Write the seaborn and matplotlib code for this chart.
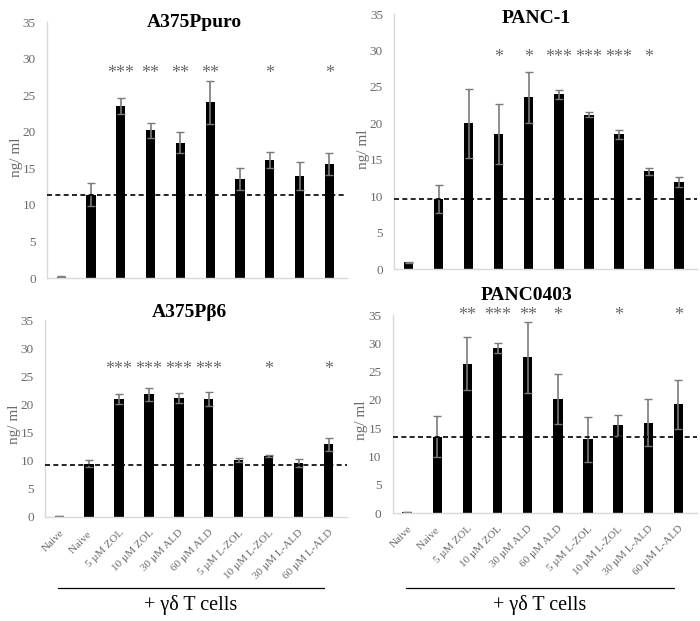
import numpy as np
import pandas as pd
import matplotlib
matplotlib.use("Agg")
import matplotlib.pyplot as plt
import matplotlib.transforms as mtransforms
import seaborn as sns

sns.set_theme(style="white")
plt.rcParams['font.family'] = ['Liberation Serif', 'DejaVu Serif']

categories = ["Naive", "Naive ", "5 µM ZOL", "10 µM ZOL", "30 µM ALD", "60 µM ALD",
              "5 µM L-ZOL", "10 µM L-ZOL", "30 µM L-ALD", "60 µM L-ALD"]

titles = ["A375Ppuro", "PANC-1", "A375Pβ6", "PANC0403"]

a375puro_vals = [0.2, 11.4, 23.5, 20.2, 18.5, 24.0, 13.6, 16.1, 14.0, 15.6]
a375puro_err = [0.05, 1.55, 1.1, 1.0, 1.4, 2.9, 1.5, 1.1, 1.9, 1.5]
a375puro_stars = ["", "", "***", "**", "**", "**", "", "*", "", "*"]

panc1_vals = [0.9, 9.6, 20.0, 18.5, 23.6, 24.0, 21.2, 18.5, 13.4, 11.9]
panc1_err = [0.05, 1.9, 4.7, 4.1, 3.5, 0.6, 0.4, 0.6, 0.45, 0.7]
panc1_stars = ["", "", "", "*", "*", "***", "***", "***", "*", ""]

a375b6_vals = [0.2, 9.5, 20.9, 21.8, 21.1, 21.0, 10.1, 10.8, 9.6, 12.9]
a375b6_err = [0.05, 0.7, 0.9, 1.2, 0.9, 1.2, 0.4, 0.2, 0.7, 1.2]
a375b6_stars = ["", "", "***", "***", "***", "***", "", "*", "", "*"]

panc0403_vals = [0.2, 13.5, 26.4, 29.2, 27.5, 20.2, 13.0, 15.5, 16.0, 19.2]
panc0403_err = [0.05, 3.6, 4.7, 0.9, 6.2, 4.4, 4.0, 1.9, 4.1, 4.4]
panc0403_stars = ["", "", "**", "***", "**", "*", "", "*", "", "*"]

baselines = [11.3, 9.6, 9.3, 13.5]
star_heights = [28.0, 29.1, 26.2, 35.0]

yticks = [0, 5, 10, 15, 20, 25, 30, 35]
ylabel = "ng/ ml"
group_label = "+ γδ T cells"

vals_all = [a375puro_vals, panc1_vals, a375b6_vals, panc0403_vals]
errs_all = [a375puro_err, panc1_err, a375b6_err, panc0403_err]
stars_all = [a375puro_stars, panc1_stars, a375b6_stars, panc0403_stars]

fig = plt.figure(figsize=(7.0, 6.21), dpi=100)
positions = [
    [0.067, 0.5523, 0.429, 0.4122],
    [0.563, 0.5668, 0.433, 0.4106],
    [0.064, 0.1675, 0.431, 0.3172],
    [0.561, 0.1739, 0.434, 0.3188],
]
title_xy = [(0.49, 1.0), (0.47, 0.984), (0.48, 1.036), (0.44, 1.10)]
line_y = [None, None, -0.36, -0.379]
text_y = [None, None, -0.447, -0.465]

gray_txt = "#6a6a6a"
for i in range(4):
    ax = fig.add_axes(positions[i])
    df = pd.DataFrame({"cond": categories, "val": vals_all[i]})
    sns.barplot(data=df, x="cond", y="val", color="black", width=0.31,
                saturation=1, ax=ax, errorbar=None, linewidth=0, edgecolor="black")
    xs = np.arange(len(categories))
    ax.errorbar(xs, vals_all[i], yerr=errs_all[i], fmt="none",
                ecolor="#7a7a7a", elinewidth=1.2, capsize=3, capthick=1.0)
    ax.axhline(baselines[i], color="black", ls=(0, (3, 2)), lw=1.2, zorder=5)
    for xi, s in zip(xs, stars_all[i]):
        if s:
            ax.text(xi, star_heights[i], s, ha="center", va="center",
                    fontsize=13, color=gray_txt)
    ax.set_xlim(-0.48, 9.6)
    ax.set_ylim(0, 35)
    ax.set_yticks(yticks)
    ax.tick_params(axis="y", labelsize=9.5, labelcolor=gray_txt, length=0, pad=8)
    ax.set_ylabel(ylabel, fontsize=11, color=gray_txt)
    ax.yaxis.set_label_coords(-0.08, 0.47)
    ax.set_xlabel("")
    for sp in ["top", "right"]:
        ax.spines[sp].set_visible(False)
    for sp in ["left", "bottom"]:
        ax.spines[sp].set_color("#d9d9d9")
        ax.spines[sp].set_linewidth(1.0)
    ax.text(title_xy[i][0], title_xy[i][1], titles[i], transform=ax.transAxes,
            ha="center", va="center", fontsize=14, fontweight="bold", color="black")
    if i < 2:
        ax.set_xticks(xs)
        ax.set_xticklabels([])
        ax.tick_params(axis="x", length=0)
    else:
        ax.set_xticks(xs)
        ax.set_xticklabels(categories, rotation=45, ha="right",
                           rotation_mode="anchor", fontsize=8, color=gray_txt)
        ax.tick_params(axis="x", length=0, pad=8)
        trans = mtransforms.blended_transform_factory(ax.transData, ax.transAxes)
        ax.plot([-0.05, 8.85], [line_y[i], line_y[i]], color="black", lw=0.9,
                transform=trans, clip_on=False)
        ax.text(4.4, text_y[i], group_label, transform=trans, ha="center",
                va="center", fontsize=14.5, color="black")

fig.savefig("out.png", dpi=100)
